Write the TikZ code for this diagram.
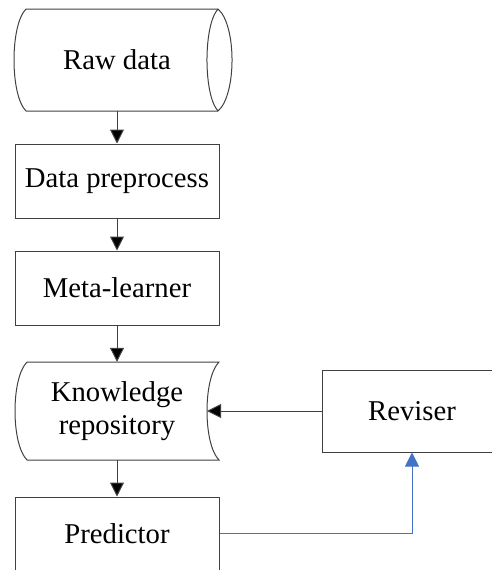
\documentclass[tikz,border=0pt]{standalone}
\usepackage{fontspec}
\setmainfont{Liberation Serif}
\usetikzlibrary{arrows.meta}
\definecolor{edgegray}{HTML}{404040}
\definecolor{flowblue}{HTML}{4472C4}
\begin{document}
\begin{tikzpicture}[x=1pt,y=-1pt,
  every node/.style={font=\rmfamily\fontsize{28.7}{33}\selectfont, inner sep=0pt, align=center},
  procbox/.style={draw=edgegray, line width=1pt, minimum width=204pt},
  textonly/.style={minimum width=204pt},
  shapeline/.style={draw=edgegray, line width=1pt},
  arr/.style={draw=edgegray, line width=1pt, -{Triangle[width=14pt,length=14pt,fill=black]}},
  bluearr/.style={draw=flowblue, line width=1pt, -{Triangle[width=14pt,length=14pt,fill=flowblue]}}
]
\useasboundingbox (0,0) rectangle (492,570);
% Raw data (direct access storage shape)
\draw[shapeline] (26,9) -- (218,9) .. controls (236.7,25) and (236.7,95) .. (218,111) -- (26,111) .. controls (10,95) and (10,25) .. (26,9) -- cycle;
\draw[shapeline] (218,9) .. controls (203.3,25) and (203.3,95) .. (218,111);
\node[textonly, minimum height=102pt] (raw) at (117,60) {Raw data};
% Data preprocess
\node[procbox, minimum height=74pt] (pre) at (117,181) {Data preprocess};
% Meta-learner
\node[procbox, minimum height=74pt] (meta) at (117,288) {Meta-learner};
% Knowledge repository (stored data shape)
\draw[shapeline] (27,362) -- (219,362) .. controls (203,378) and (203,444) .. (219,460) -- (27,460) .. controls (11,444) and (11,378) .. (27,362) -- cycle;
\node[textonly, minimum height=98pt] (kr) at (117,411) {Knowledge\\repository};
\coordinate (krin) at (207,411);
% Predictor
\node[procbox, minimum height=74pt] (pred) at (117,534) {Predictor};
% Reviser
\node[procbox, minimum width=180pt, minimum height=82pt] (rev) at (412,411) {Reviser};
% connectors
\draw[arr] (raw.south) -- (pre.north);
\draw[arr] (pre.south) -- (meta.north);
\draw[arr] (meta.south) -- (kr.north);
\draw[arr] (kr.south) -- (pred.north);
\draw[arr] (rev.west) -- (krin);
\draw[bluearr] (pred.east |- 0,533) -| (rev.south);
\end{tikzpicture}
\end{document}
